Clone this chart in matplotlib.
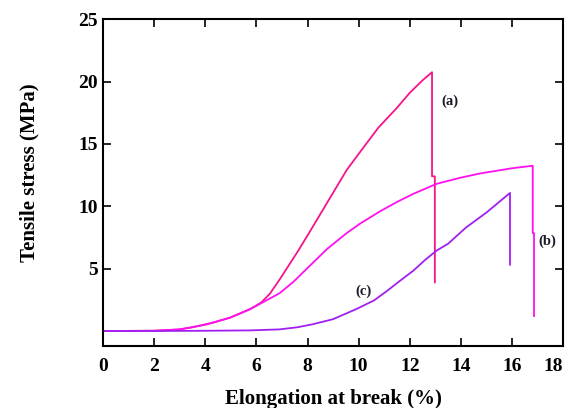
import numpy as np
import matplotlib.pyplot as plt

# curva (a)
xa = [0, 2.0, 3.0, 3.5, 4.3, 4.97, 5.75, 6.2, 6.53, 6.9, 7.64, 8.1, 8.8, 9.53, 10.0, 10.77, 11.5, 12.0, 12.5, 12.87,
      12.87, 12.98, 12.98]
ya = [0, 0.02, 0.13, 0.3, 0.67, 1.07, 1.75, 2.3, 3.0, 4.1, 6.45, 8.0, 10.4, 12.9, 14.2, 16.3, 17.9, 19.1, 20.1, 20.75,
      12.4, 12.4, 3.9]

# curva (b)
xb = [0, 2.0, 3.0, 4.0, 4.97, 5.75, 6.3, 6.92, 7.45, 8.0, 8.75, 9.53, 10.05, 10.84, 11.5, 12.14, 13.05, 14.0, 14.75,
      16.0, 16.81, 16.81, 16.86, 16.86]
yb = [0, 0.02, 0.13, 0.5, 1.07, 1.75, 2.35, 3.05, 3.95, 5.05, 6.55, 7.85, 8.6, 9.6, 10.35, 11.0, 11.8, 12.3, 12.63,
      13.05, 13.25, 7.85, 7.85, 1.2]

# curva (c)
xc = [0, 2.0, 4.0, 5.75, 6.9, 7.6, 8.2, 9.0, 9.9, 10.6, 11.1, 11.62, 12.14, 12.6, 13.05, 13.5, 14.2, 15.0, 15.92, 15.92]
yc = [0, 0, 0.02, 0.05, 0.13, 0.3, 0.54, 0.95, 1.75, 2.45, 3.2, 4.03, 4.84, 5.7, 6.45, 7.0, 8.3, 9.5, 11.07, 5.32]

etiquetas = ["(a)", "(b)", "(c)"]
pos_etiq = [(13.58, 18.4), (17.37, 7.2), (10.17, 3.2)]

plt.rcParams['font.family'] = ['Liberation Serif', 'DejaVu Serif']
plt.rcParams['font.weight'] = 'bold'

fig = plt.figure(figsize=(5.66, 4.08), dpi=100)
ax = fig.add_axes([0.182, 0.152, 0.813, 0.801])

ax.plot(xa, ya, color='#f5148c', lw=1.3)
ax.plot(xb, yb, color='#ff10f0', lw=1.3)
ax.plot(xc, yc, color='#a020f0', lw=1.3)

for t, (x, y) in zip(etiquetas, pos_etiq):
    ax.text(x, y, t, fontsize=10.5, fontweight='bold', color='#1c1c28', ha='center', va='center')

ax.set_xlim(0, 18)
ax.set_ylim(-1.2, 25)
ax.set_xticks(np.arange(0, 19, 2))
ax.set_yticks([5, 10, 15, 20, 25])
ax.tick_params(axis='both', direction='in', length=6, width=1.2, labelsize=14)
ax.tick_params(axis='x', top=True, pad=9)
ax.tick_params(axis='y', right=True, pad=4)
for s in ax.spines.values():
    s.set_linewidth(1.5)
for lb in ax.get_xticklabels() + ax.get_yticklabels():
    lb.set_fontweight('bold')
ax.get_xticklabels()[-1].set_horizontalalignment('right')

ax.set_xlabel("Elongation at break (%)", fontsize=15, fontweight='bold', labelpad=10)
ax.set_ylabel("Tensile stress (MPa)", fontsize=15, fontweight='bold')
ax.yaxis.set_label_coords(-0.138, 0.53)

fig.savefig("out.png", dpi=100)
